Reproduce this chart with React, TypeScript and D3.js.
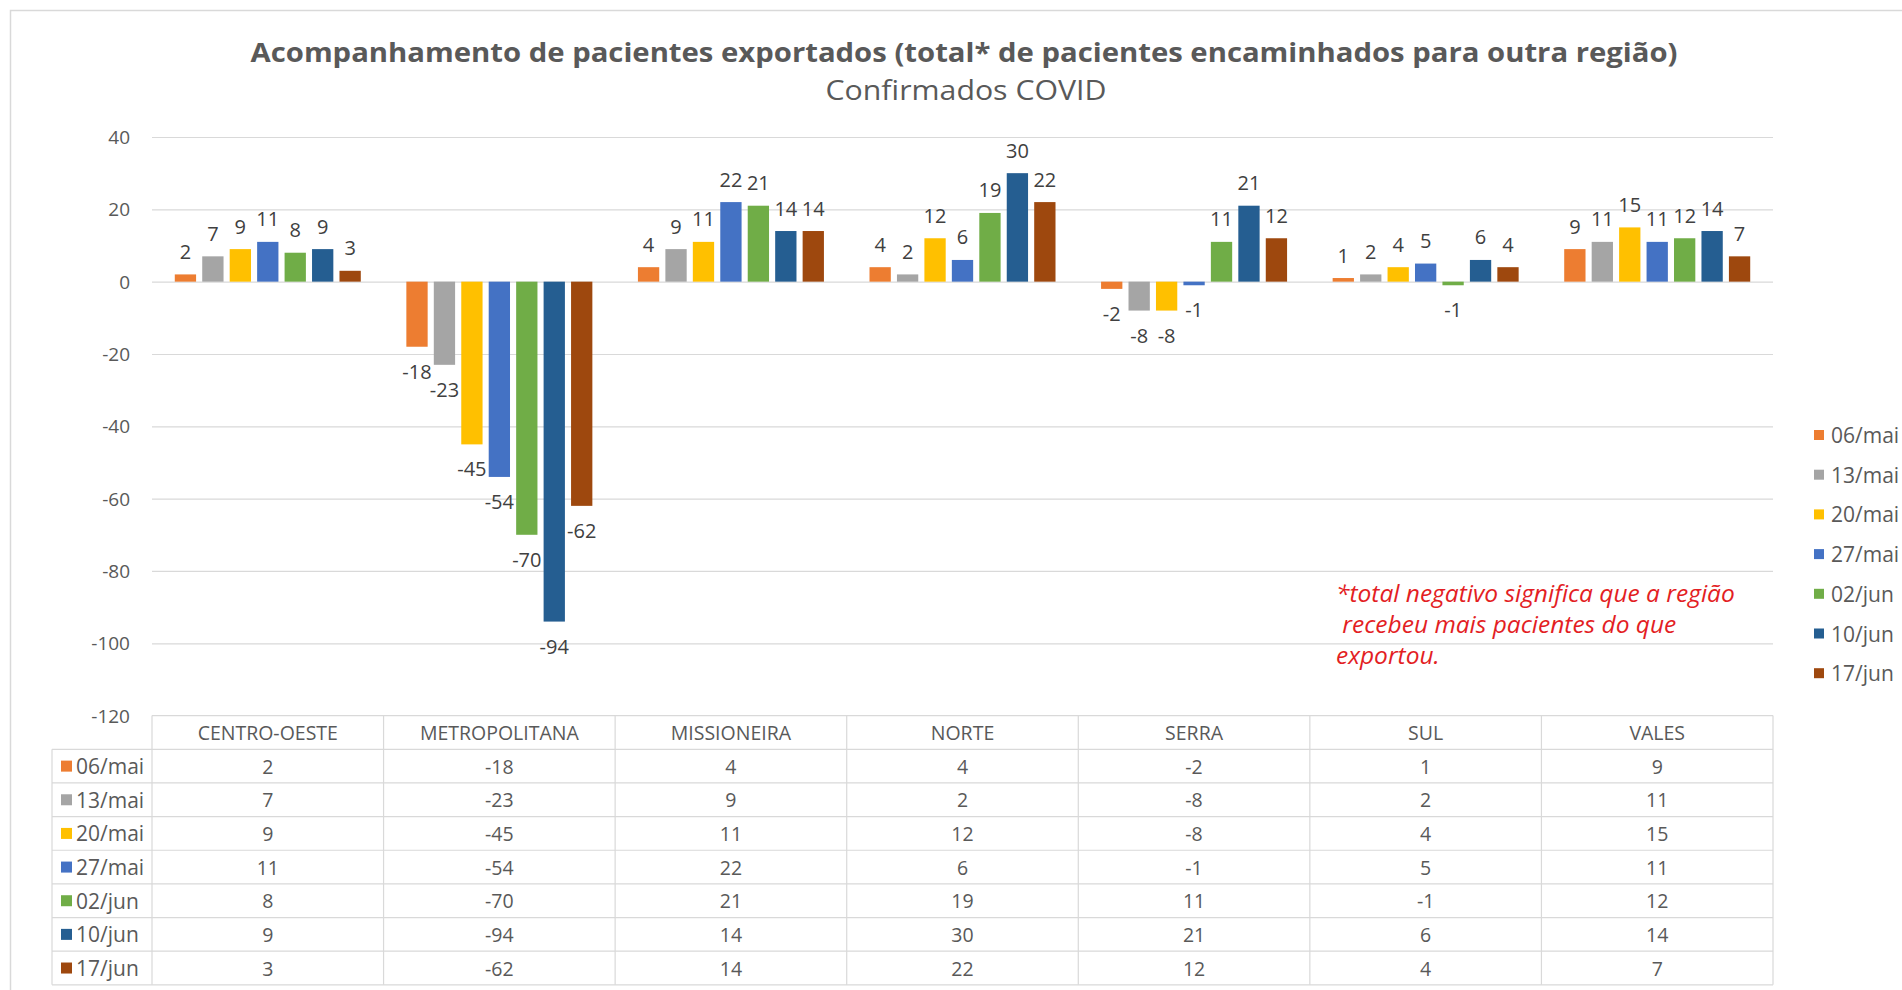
import React from "react";
import * as d3 from "d3";

// regions (x axis / table columns)
const categories = ["CENTRO-OESTE", "METROPOLITANA", "MISSIONEIRA", "NORTE", "SERRA", "SUL", "VALES"];

// weekly snapshots, one array per series (same order as categories)
const mai06 = [2, -18, 4, 4, -2, 1, 9];
const mai13 = [7, -23, 9, 2, -8, 2, 11];
const mai20 = [9, -45, 11, 12, -8, 4, 15];
const mai27 = [11, -54, 22, 6, -1, 5, 11];
const jun02 = [8, -70, 21, 19, 11, -1, 12];
const jun10 = [9, -94, 14, 30, 21, 6, 14];
const jun17 = [3, -62, 14, 22, 12, 4, 7];

const seriesNames = ["06/mai", "13/mai", "20/mai", "27/mai", "02/jun", "10/jun", "17/jun"];
const seriesValues = [mai06, mai13, mai20, mai27, jun02, jun10, jun17];
const colors = ["#ED7D31", "#A5A5A5", "#FFC000", "#4472C4", "#70AD47", "#255E91", "#9E480E"];

const yTicks = [40, 20, 0, -20, -40, -60, -80, -100, -120];

const noteLines = [
  "*total negativo significa que a região",
  " recebeu mais pacientes do que",
  "exportou.",
];

const W = 1902;
const H = 990;
const FONT = "'Open Sans', 'Noto Sans', sans-serif";
const GRID = "#d9d9d9";
const TEXT = "#595959";

export default function App() {
  const left = 152;
  const right = 1773;
  const top = 137;
  const bottom = 715.6;

  const x0 = d3.scaleBand<string>().domain(categories).range([left, right]).padding(0);
  const x1 = d3
    .scaleBand<string>()
    .domain(seriesNames)
    .range([0, x0.bandwidth()])
    .paddingInner(0.224)
    .paddingOuter(0.83);
  const y = d3.scaleLinear().domain([-120, 40]).range([bottom, top]);

  // table geometry
  const headerTop = bottom;
  const rowTop = 749.3;
  const rowH = 33.65;
  const labelLeft = 52;
  const tableBottom = rowTop + rowH * seriesNames.length;

  return (
    <svg
      width={W}
      height={H}
      viewBox={`0 0 ${W} ${H}`}
      style={{ position: "absolute", left: 0, top: 0, background: "#fff" }}
      fontFamily={FONT}
    >
      <rect x={0} y={0} width={W} height={H} fill="#fff" />
      {/* chart frame (only top/left visible) */}
      <rect x={10.5} y={10.5} width={W} height={H} fill="none" stroke={GRID} strokeWidth={1.5} />

      {/* titles */}
      <text
        x={964}
        y={51}
        textAnchor="middle"
        dominantBaseline="central"
        fontSize={27}
        fontWeight={700}
        fill={TEXT}
        textLength={1427}
        lengthAdjust="spacingAndGlyphs"
      >
        Acompanhamento de pacientes exportados (total* de pacientes encaminhados para outra região)
      </text>
      <text
        x={966}
        y={89}
        textAnchor="middle"
        dominantBaseline="central"
        fontSize={27}
        fill={TEXT}
        textLength={281}
        lengthAdjust="spacingAndGlyphs"
      >
        Confirmados COVID
      </text>

      {/* gridlines + y labels */}
      {yTicks.map((t) => (
        <g key={t}>
          {t > -120 && (
            <line x1={left} x2={right} y1={y(t) + 0.5} y2={y(t) + 0.5} stroke={GRID} strokeWidth={1.2} />
          )}
          <text x={130} y={y(t)} textAnchor="end" dominantBaseline="central" fontSize={19} fill={TEXT}>
            {t}
          </text>
        </g>
      ))}

      {/* bars */}
      {seriesNames.map((s, si) => (
        <g key={s} fill={colors[si]}>
          {seriesValues[si].map((v, ci) => {
            const bx = x0(categories[ci])! + x1(s)!;
            const y0 = y(0);
            const yv = y(v);
            return (
              <rect
                key={ci}
                x={bx}
                y={Math.min(y0, yv)}
                width={x1.bandwidth()}
                height={Math.abs(yv - y0)}
              />
            );
          })}
        </g>
      ))}

      {/* data labels */}
      {seriesNames.map((s, si) => (
        <g key={s} fontSize={20} fill="#404040" textAnchor="middle">
          {seriesValues[si].map((v, ci) => {
            const cx = x0(categories[ci])! + x1(s)! + x1.bandwidth() / 2;
            const ly = v >= 0 ? y(v) - 23 : y(v) + 24.5;
            return (
              <text key={ci} x={cx} y={ly} dominantBaseline="central">
                {v}
              </text>
            );
          })}
        </g>
      ))}

      {/* note */}
      <g fill="#e31e24" fontStyle="italic" fontSize={24.5}>
        {noteLines.map((l, i) => (
          <text key={i} x={1336} y={[602, 633, 664][i]} style={{ whiteSpace: "pre" }}>
            {l}
          </text>
        ))}
      </g>

      {/* legend */}
      {seriesNames.map((s, i) => {
        const ly = 435 + i * 39.7;
        return (
          <g key={s}>
            <rect x={1814} y={ly - 5} width={10} height={10} fill={colors[i]} />
            <text x={1831} y={ly} dominantBaseline="central" fontSize={21} fill={TEXT}>
              {s}
            </text>
          </g>
        );
      })}

      {/* data table */}
      <g stroke={GRID} strokeWidth={1.2}>
        <line x1={left} x2={right} y1={headerTop} y2={headerTop} />
        {[...Array(seriesNames.length + 1)].map((_, i) => (
          <line key={i} x1={labelLeft} x2={right} y1={rowTop + i * rowH} y2={rowTop + i * rowH} />
        ))}
        <line x1={labelLeft} x2={labelLeft} y1={rowTop} y2={tableBottom} />
        {categories.map((c) => (
          <line key={c} x1={x0(c)} x2={x0(c)} y1={headerTop} y2={tableBottom} />
        ))}
        <line x1={right} x2={right} y1={headerTop} y2={tableBottom} />
      </g>
      {categories.map((c, ci) => (
        <g key={c} fill={TEXT} fontSize={19.5} textAnchor="middle">
          <text x={x0(c)! + x0.bandwidth() / 2} y={(headerTop + rowTop) / 2} dominantBaseline="central">
            {c}
          </text>
          {seriesNames.map((s, si) => (
            <text
              key={s}
              x={x0(c)! + x0.bandwidth() / 2}
              y={rowTop + rowH * (si + 0.5)}
              dominantBaseline="central"
            >
              {seriesValues[si][ci]}
            </text>
          ))}
        </g>
      ))}
      {seriesNames.map((s, si) => {
        const ry = rowTop + rowH * (si + 0.5);
        return (
          <g key={s}>
            <rect x={61} y={ry - 5.5} width={11} height={11} fill={colors[si]} />
            <text x={76} y={ry} dominantBaseline="central" fontSize={21} fill={TEXT}>
              {s}
            </text>
          </g>
        );
      })}
    </svg>
  );
}
